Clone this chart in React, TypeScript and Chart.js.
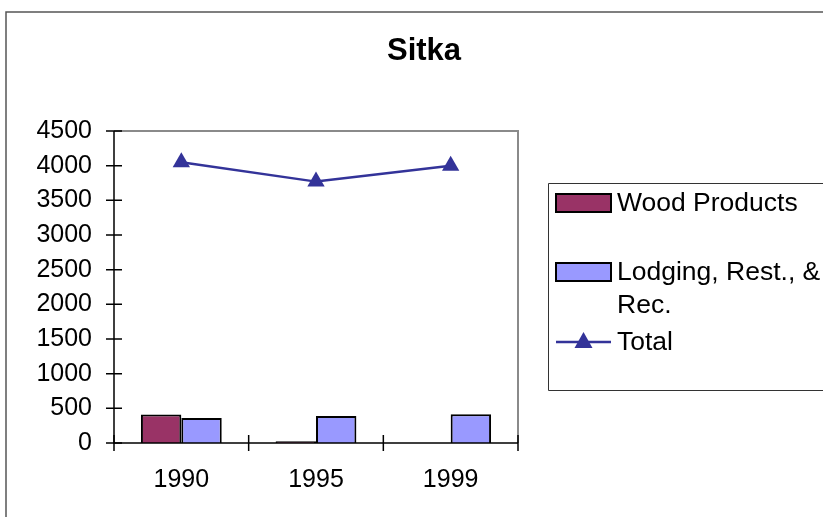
import React, { useEffect, useRef } from "react";
import { Chart, registerables } from "chart.js";

Chart.register(...registerables);

const title = "Sitka";
const categories = ["1990", "1995", "1999"];
const woodProducts: (number | null)[] = [410, 25, null];
const lodging: number[] = [360, 390, 415];
const total: number[] = [4050, 3770, 4000];
const yTicks = { min: 0, max: 4500, step: 500 };
const seriesNames = ["Wood Products", "Lodging, Rest., &\nRec.", "Total"];

const FONT = 'Arial, "Liberation Sans", sans-serif';
const WOOD = "#993366";
const LODGE = "#9999FF";
const TOTAL = "#333399";

const decorPlugin = {
  id: "decor",
  beforeDraw(chart: any) {
    const ctx = chart.ctx as CanvasRenderingContext2D;
    ctx.save();
    ctx.fillStyle = "#ffffff";
    ctx.fillRect(0, 0, chart.width, chart.height);
    ctx.strokeStyle = "#555555";
    ctx.lineWidth = 1.5;
    ctx.beginPath();
    ctx.moveTo(6, chart.height + 2);
    ctx.lineTo(6, 12);
    ctx.lineTo(chart.width + 2, 12);
    ctx.stroke();
    ctx.restore();
  },
  afterDatasetsDraw(chart: any) {
    const ctx = chart.ctx as CanvasRenderingContext2D;
    const area = chart.chartArea;
    const xs = chart.scales.x;
    const ys = chart.scales.y;
    ctx.save();
    ctx.strokeStyle = "#8a8a8a";
    ctx.lineWidth = 2;
    ctx.beginPath();
    ctx.moveTo(area.left, area.top);
    ctx.lineTo(area.right, area.top);
    ctx.lineTo(area.right, area.bottom);
    ctx.stroke();
    ctx.strokeStyle = "#000000";
    ctx.lineWidth = 1.5;
    ctx.beginPath();
    ctx.moveTo(area.left, area.top);
    ctx.lineTo(area.left, area.bottom);
    ctx.lineTo(area.right, area.bottom);
    ctx.stroke();
    ctx.beginPath();
    for (const t of ys.ticks) {
      const py = ys.getPixelForValue(t.value);
      ctx.moveTo(area.left - 8, py);
      ctx.lineTo(area.left + 8, py);
    }
    for (let i = 0; i <= categories.length; i++) {
      const px = xs.getPixelForValue(i - 0.5);
      ctx.moveTo(px, area.bottom - 8);
      ctx.lineTo(px, area.bottom + 8);
    }
    ctx.stroke();
    ctx.restore();
  },
  afterDraw(chart: any) {
    const ctx = chart.ctx as CanvasRenderingContext2D;
    ctx.save();
    ctx.fillStyle = "#000000";
    ctx.font = `bold 31px ${FONT}`;
    ctx.textAlign = "center";
    ctx.textBaseline = "middle";
    ctx.fillText(title, 424, 51);

    ctx.strokeStyle = "#333333";
    ctx.lineWidth = 1;
    ctx.beginPath();
    ctx.moveTo(chart.width + 2, 183.5);
    ctx.lineTo(548.5, 183.5);
    ctx.lineTo(548.5, 390.5);
    ctx.lineTo(chart.width + 2, 390.5);
    ctx.stroke();

    ctx.font = `26.5px ${FONT}`;
    ctx.textAlign = "left";
    ctx.textBaseline = "middle";
    const swX = 556;
    const swW = 55;
    const swH = 18;
    const textX = 617;
    const items = [
      { color: WOOD, cy: 203 },
      { color: LODGE, cy: 272 },
    ];
    items.forEach((it, i) => {
      ctx.fillStyle = it.color;
      ctx.fillRect(swX, it.cy - swH / 2, swW, swH);
      ctx.strokeStyle = "#000000";
      ctx.lineWidth = 2;
      ctx.strokeRect(swX, it.cy - swH / 2, swW, swH);
      ctx.fillStyle = "#000000";
      const lines = seriesNames[i].split("\n");
      lines.forEach((ln, j) => ctx.fillText(ln, textX, it.cy + 1 + j * 33));
    });
    const ty = 342;
    ctx.strokeStyle = TOTAL;
    ctx.lineWidth = 2.5;
    ctx.beginPath();
    ctx.moveTo(swX, ty);
    ctx.lineTo(swX + swW, ty);
    ctx.stroke();
    ctx.fillStyle = TOTAL;
    const cx = swX + swW / 2;
    ctx.beginPath();
    ctx.moveTo(cx, ty - 10);
    ctx.lineTo(cx + 9, ty + 6);
    ctx.lineTo(cx - 9, ty + 6);
    ctx.closePath();
    ctx.fill();
    ctx.fillStyle = "#000000";
    ctx.fillText(seriesNames[2], textX, ty + 1);
    ctx.restore();
  },
};

export default function App() {
  const ref = useRef<HTMLCanvasElement>(null);
  useEffect(() => {
    if (!ref.current) return;
    const chart = new Chart(ref.current, {
      type: "bar",
      data: {
        labels: categories,
        datasets: [
          {
            type: "bar",
            label: seriesNames[0],
            data: woodProducts,
            backgroundColor: WOOD,
            borderColor: "#000000",
            borderWidth: 2,
            categoryPercentage: 0.6,
            barPercentage: 1,
            order: 2,
          } as any,
          {
            type: "bar",
            label: seriesNames[1],
            data: lodging,
            backgroundColor: LODGE,
            borderColor: "#000000",
            borderWidth: 2,
            categoryPercentage: 0.6,
            barPercentage: 1,
            order: 2,
          } as any,
          {
            type: "line",
            label: seriesNames[2],
            data: total,
            borderColor: TOTAL,
            backgroundColor: TOTAL,
            borderWidth: 2.5,
            pointStyle: "triangle",
            pointRadius: 10,
            pointBorderWidth: 0,
            tension: 0,
            order: 0,
          } as any,
        ],
      },
      options: {
        responsive: false,
        animation: false,
        devicePixelRatio: 1,
        layout: { padding: { left: 1, top: 131, right: 305, bottom: 0 } },
        plugins: {
          legend: { display: false },
          title: { display: false },
          tooltip: { enabled: false },
        },
        scales: {
          x: {
            offset: true,
            grid: { display: false, drawTicks: false },
            border: { display: false },
            ticks: {
              color: "#000000",
              font: { family: FONT, size: 25 },
              padding: 22,
              maxRotation: 0,
            },
            afterFit: (s: any) => {
              s.height = 74;
            },
          },
          y: {
            min: yTicks.min,
            max: yTicks.max,
            grid: { display: false, drawTicks: false },
            border: { display: false },
            ticks: {
              stepSize: yTicks.step,
              color: "#000000",
              font: { family: FONT, size: 25 },
              padding: 22,
              callback: (v: any) => String(v),
            },
            afterFit: (s: any) => {
              s.width = 113;
            },
          },
        },
      },
      plugins: [decorPlugin],
    });
    return () => chart.destroy();
  }, []);
  return (
    <div style={{ position: "absolute", left: 0, top: 0, width: 823, height: 517, overflow: "hidden" }}>
      <canvas ref={ref} width={823} height={517} style={{ display: "block", width: 823, height: 517 }} />
    </div>
  );
}
